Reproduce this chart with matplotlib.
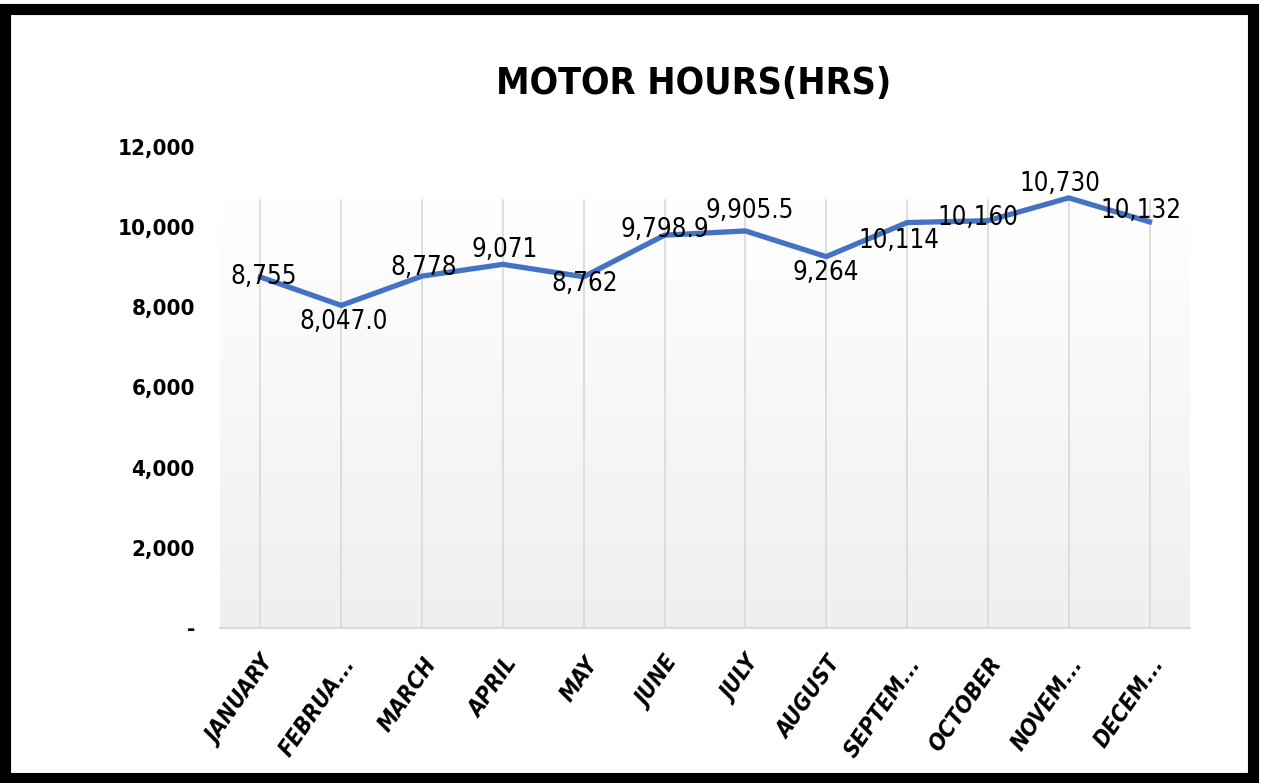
import numpy as np
import matplotlib.pyplot as plt
from matplotlib.patches import Rectangle
from matplotlib.ticker import FuncFormatter
from matplotlib.colors import LinearSegmentedColormap

months = ['JANUARY', 'FEBRUA...', 'MARCH', 'APRIL', 'MAY', 'JUNE', 'JULY',
          'AUGUST', 'SEPTEM...', 'OCTOBER', 'NOVEM...', 'DECEM...']
hours = [8755, 8047.0, 8778, 9071, 8762, 9798.9, 9905.5, 9264, 10114, 10160, 10730, 10132]
labels = ['8,755', '8,047.0', '8,778', '9,071', '8,762', '9,798.9', '9,905.5',
          '9,264', '10,114', '10,160', '10,730', '10,132']
yticks = [0, 2000, 4000, 6000, 8000, 10000, 12000]

# label offsets in points (dx, dy)
offsets = [(2, 0), (2, -12), (1, 6), (1, 10), (1, -5), (0, 4), (3, 14),
           (0, -12), (-6, -13), (-7, 2), (-6, 10), (-6, 8)]

plt.rcParams['font.family'] = ['DejaVu Sans']
plt.rcParams['font.stretch'] = 'condensed'

fig = plt.figure(figsize=(12.62, 7.83), dpi=100)
ax = fig.add_axes([0.1743, 0.198, 0.7686, 0.6143])

x = np.arange(len(months))

# gradient plot area
grad = np.linspace(0, 1, 256).reshape(-1, 1)
ax.imshow(grad, cmap=LinearSegmentedColormap.from_list('g', ['#efefef', '#ffffff']),
          aspect='auto', origin='lower', extent=[0, 1, 0, 0.89],
          transform=ax.transAxes, zorder=0)

for xi in x:
    ax.axvline(xi, ymin=0, ymax=0.89, color='#d9d9d9', lw=1.2, zorder=1)

ax.plot(x, hours, color='#4472C4', lw=3.8, solid_joinstyle='round', zorder=3)

for xi, v, lab, (dx, dy) in zip(x, hours, labels, offsets):
    ax.annotate(lab, (xi, v), xytext=(dx, dy), textcoords='offset points',
                ha='center', va='center', fontsize=18.5, color='black', zorder=4)

ax.set_xlim(-0.5, len(months) - 0.5)
ax.set_ylim(0, 12000)
ax.set_yticks(yticks)
ax.yaxis.set_major_formatter(FuncFormatter(lambda v, p: '-' if v == 0 else f'{v:,.0f}'))
ax.set_xticks(x)
ax.set_xticklabels(months, rotation=55, ha='right', rotation_mode='anchor',
                   fontsize=16.5, fontweight='bold', fontstyle='italic')
for t in ax.get_yticklabels():
    t.set_fontsize(16)
    t.set_fontweight('bold')
ax.tick_params(axis='both', length=0)
ax.tick_params(axis='y', pad=18)
ax.tick_params(axis='x', pad=18)

for s in ['top', 'right', 'left']:
    ax.spines[s].set_visible(False)
ax.spines['bottom'].set_color('#d9d9d9')
ax.spines['bottom'].set_linewidth(1.5)

fig.text(0.55, 0.893, 'MOTOR HOURS(HRS)', ha='center', va='center',
         fontsize=27, fontweight='bold')

# black frame around the picture
fig.patches.append(Rectangle((0.004, 0.007), 0.989, 0.982, transform=fig.transFigure,
                             fill=False, edgecolor='black', lw=8))

fig.savefig('out.png', dpi=100)
